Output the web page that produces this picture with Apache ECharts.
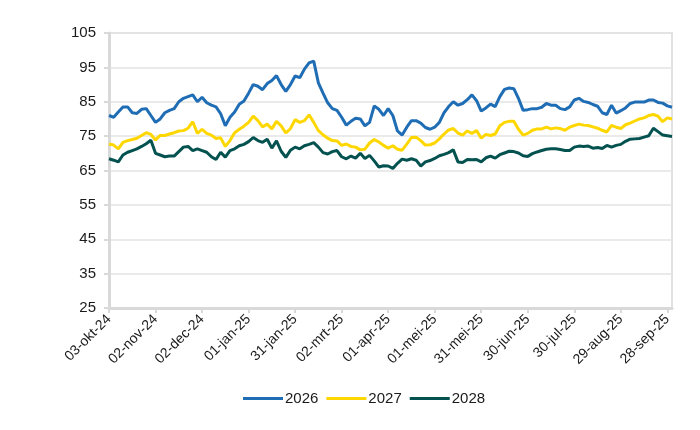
<!DOCTYPE html>
<html>
<head>
<meta charset="utf-8">
<script src="https://cdn.jsdelivr.net/npm/echarts@6/dist/echarts.min.js"></script>
<style>html,body{margin:0;padding:0;background:#fff;}#c{width:700px;height:430px;}</style>
</head>
<body>
<div id="c"></div>
<script>
// Series names
const seriesNames = ['2026', '2027', '2028'];
// X axis tick labels (every 30 days)
const tickLabels = ['03-okt-24','02-nov-24','02-dec-24','01-jan-25','31-jan-25','02-mrt-25','01-apr-25','01-mei-25','31-mei-25','30-jun-25','30-jul-25','29-aug-25','28-sep-25'];
const monthsNL = ['jan','feb','mrt','apr','mei','jun','jul','aug','sep','okt','nov','dec'];
// Y axis ticks
const yTicks = [25, 35, 45, 55, 65, 75, 85, 95, 105];

// Values sampled every 3 calendar days from 03-okt-24
const v2026 = [81,80.5,82,83.5,83.5,81.8,81.6,82.8,83,81,79,80,81.8,82.5,83,85,86,86.5,87,85,
86.3,84.7,84,83.5,81.5,78,80.5,82,84.3,85.2,87.5,90,89.5,88.5,90.3,91.2,92.6,90,88,90,
92.5,92,94.5,96.3,96.8,90.5,87.5,84.7,83,82.5,80.5,78.2,79.3,80.2,80,78,79,83.8,82.8,81,
83,81,76.5,75.3,77.6,79.5,79.5,78.8,77.5,77,77.6,79,81.8,83.6,85,84,84.5,85.6,87,85.3,
82.3,83.2,84.3,83.6,86.5,88.6,89,88.8,86,82.5,82.7,83,83,83.4,84.5,84,84,83,82.7,83.5,
85.5,86,85.1,84.8,84.2,83.7,81.8,81.3,84,81.7,82.4,83.2,84.5,84.9,84.9,84.9,85.5,85.5,84.8,84.6,
83.8,83.4];
const v2027 = [72.7,72.4,71.3,73.2,73.7,74,74.4,75.2,76,75.5,73.9,75.2,75.2,75.6,76,76.5,76.6,77.3,79.2,75.8,
77,75.8,75.3,74.3,74.5,72,73.7,76,77,77.9,79,80.8,79.5,77.7,78.5,77.1,79.3,78,75.9,77.2,
79.8,79,79.5,81.2,79,76.6,75.4,74.4,73.7,73.6,72.3,72.7,72,71.8,71,71.2,73,74,73.3,72.3,
71.5,72.2,71.2,70.9,72.7,74.6,74.7,73.7,72.4,72.5,73,74.2,75.6,76.8,77.2,75.9,75.3,76.5,75.8,76.6,
74.4,75.5,75.2,75.6,78,79,79.3,79.3,77,75.3,75.8,76.7,77.1,77.1,77.6,77.1,77.4,77.2,76.7,77.6,
78.1,78.5,78.2,78.1,77.7,77.3,76.7,76.2,78.1,77.6,77.2,78.3,78.8,79.4,80,80.3,81,81.3,80.8,79.2,
80.3,80];
const v2028 = [68.4,68,67.5,69.5,70.3,70.8,71.3,72,72.8,73.8,70,69.5,69,69.2,69.2,70.5,71.8,72,70.8,71.3,
70.8,70.3,69,68.2,70.3,68.9,70.8,71.3,72.2,72.6,73.4,74.6,73.7,73.2,74.1,71.5,73.6,70.6,68.8,70.9,
71.8,71.3,72.2,72.6,73.1,71.8,70.2,69.8,70.5,70.8,69,68.4,69.2,68.6,70,68.5,69.4,67.8,66,66.4,
66.3,65.6,67.1,68.3,68,68.4,68,66.3,67.5,67.9,68.5,69.3,69.7,70.2,71,67.5,67.3,68.2,68.1,68.2,
67.5,68.7,69.2,68.6,69.6,70.1,70.6,70.5,70.1,69.3,69.1,69.9,70.4,70.8,71.2,71.3,71.3,71.1,70.8,70.8,
71.8,72.1,72,72.1,71.5,71.7,71.4,72.3,71.8,72.3,72.6,73.5,74.1,74.2,74.3,74.7,75.1,77.3,76.3,75.3,
75.1,74.9];

const colors = ['#1f6db5', '#ffd700', '#03524f'];

// Date categories every 3 days
const categories = [];
for (let k = 0; k < v2026.length; k++) {
  const d = new Date(2024, 9, 3);
  d.setDate(d.getDate() + 3 * k);
  const dd = String(d.getDate()).padStart(2, '0');
  categories.push(dd + '-' + monthsNL[d.getMonth()] + '-' + String(d.getFullYear()).slice(2));
}

const chart = echarts.init(document.getElementById('c'), null, {renderer: 'canvas'});
const font = 'Liberation Sans, Arial, sans-serif';
const values = [v2026, v2027, v2028];

chart.setOption({
  animation: false,
  color: colors,
  grid: {left: 109, right: 28, top: 33, bottom: 122, show: true, borderColor: '#d9d9d9', borderWidth: 1.5},
  legend: {
    data: seriesNames,
    left: 238, top: 386,
    icon: 'rect', itemWidth: 40, itemHeight: 3, itemGap: 8,
    textStyle: {fontFamily: font, fontSize: 15, color: '#1a1a1a', padding: [0, 0, 0, -3]}
  },
  xAxis: {
    type: 'category',
    data: categories,
    boundaryGap: false,
    axisLine: {lineStyle: {color: '#d9d9d9', width: 3}},
    axisTick: {show: true, interval: 9, length: 5, lineStyle: {color: '#d9d9d9', width: 2}},
    axisLabel: {
      interval: 9, rotate: 45, margin: 9,
      fontFamily: font, fontSize: 14, color: '#1a1a1a',
      formatter: function (val, idx) { return idx % 10 === 0 ? tickLabels[idx / 10] : ''; }
    },
    splitLine: {show: false}
  },
  yAxis: {
    type: 'value',
    min: yTicks[0], max: yTicks[yTicks.length - 1], interval: 10,
    axisLine: {show: true, lineStyle: {color: '#d9d9d9', width: 3}},
    axisTick: {show: true, length: 5, lineStyle: {color: '#d9d9d9', width: 2}},
    axisLabel: {fontFamily: font, fontSize: 15, color: '#1a1a1a', margin: 13},
    splitLine: {show: true, lineStyle: {color: '#e3e3e3', width: 1.5}}
  },
  series: seriesNames.map((n, i) => ({
    name: n,
    type: 'line',
    data: values[i],
    showSymbol: false,
    symbol: 'none',
    smooth: false,
    lineStyle: {width: 3, color: colors[i]},
    z: 3 + i
  }))
});
</script>
</body>
</html>
